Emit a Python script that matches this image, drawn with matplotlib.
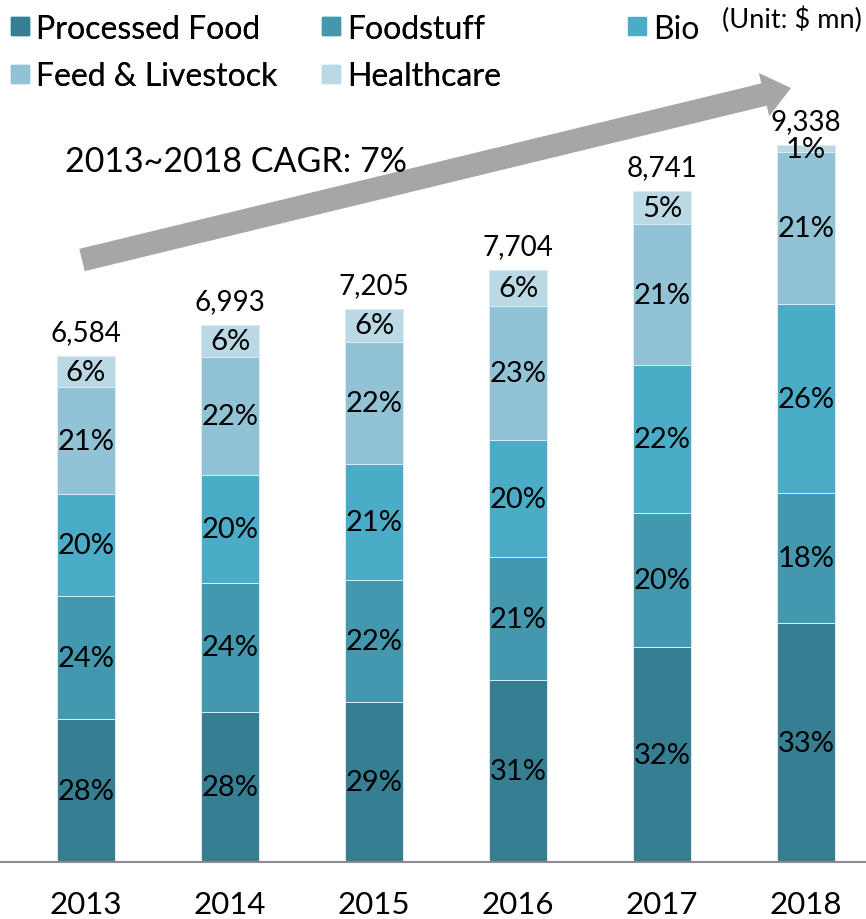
import matplotlib
matplotlib.use("Agg")
import matplotlib.pyplot as plt
from matplotlib.lines import Line2D
import numpy as np

plt.rcParams['font.family'] = ['Lato', 'DejaVu Sans']

years = ['2013', '2014', '2015', '2016', '2017', '2018']
totals = [6584, 6993, 7205, 7704, 8741, 9338]

segments = ['Processed Food', 'Foodstuff', 'Bio', 'Feed & Livestock', 'Healthcare']
processed_food = [28, 28, 29, 31, 32, 33]
foodstuff = [24, 24, 22, 21, 20, 18]
bio = [20, 20, 21, 20, 22, 26]
feed_livestock = [21, 22, 22, 23, 21, 21]
healthcare = [6, 6, 6, 6, 5, 1]
colors = ['#367f93', '#4397af', '#4aacc6', '#92c2d5', '#bad9e5']

shares = np.array([processed_food, foodstuff, bio, feed_livestock, healthcare], dtype=float)
tot = np.array(totals, dtype=float)
# split each year's total by its shares (shares don't always add to exactly 100)
values = shares / shares.sum(axis=0) * tot

fig = plt.figure(figsize=(8.66, 9.2), dpi=100)
ax = fig.add_axes([0, 57 / 920, 1, 863 / 920])

x = np.arange(len(years))
bottom = np.zeros(len(years))
for i, name in enumerate(segments):
    ax.bar(x, values[i], 0.396, bottom=bottom, color=colors[i],
           edgecolor='#d9edf3', linewidth=0.7, label=name)
    for j in range(len(years)):
        ax.text(x[j], bottom[j] + values[i][j] / 2, f"{int(shares[i][j])}%",
                ha='center', va='center', fontsize=21, color='black')
    bottom += values[i]

for j in range(len(years)):
    ax.annotate(f"{totals[j]:,}", (x[j], totals[j]), xytext=(0, 8),
                textcoords='offset points', ha='center', va='bottom',
                fontsize=20, color='black')

ax.set_xlim(-86 / 144, 780 / 144)
ax.set_ylim(0, 11240)
ax.set_xticks(x)
ax.set_xticklabels(years, fontsize=22.5)
ax.tick_params(axis='x', length=0, pad=20)
ax.set_yticks([])
for s in ['top', 'left', 'right']:
    ax.spines[s].set_visible(False)
ax.spines['bottom'].set_color('#8c8c8c')
ax.spines['bottom'].set_linewidth(1.5)
ax.patch.set_alpha(0)

# growth arrow
ax.annotate('', xy=(791 / 866, 1 - 89 / 920), xytext=(82 / 866, 1 - 261 / 920),
            xycoords='figure fraction', textcoords='figure fraction',
            arrowprops=dict(arrowstyle='simple,head_length=20,head_width=32,tail_width=16.5',
                            mutation_scale=1, color='#a6a6a6', shrinkA=0, shrinkB=0, lw=0))
fig.text(65 / 866, 1 - 162 / 920, '2013~2018 CAGR: 7%', fontsize=24.5,
         ha='left', va='center')
fig.text(862 / 866, 1 - 20 / 920, '(Unit: $ mn)', fontsize=19.5, ha='right', va='center')

# legend
def handle(c):
    return Line2D([], [], marker='s', linestyle='none', markersize=13,
                  markerfacecolor=c, markeredgecolor=c)

order = [0, 3, 1, 4]
leg1 = fig.legend([handle(colors[k]) for k in order], [segments[k] for k in order],
                  ncol=2, loc='upper left', bbox_to_anchor=(-2 / 866, 0.998), frameon=False,
                  fontsize=23, handlelength=0.6, handletextpad=0.2,
                  columnspacing=1.37, labelspacing=0.55, borderaxespad=0)
fig.add_artist(leg1)
fig.legend([handle(colors[2])], [segments[2]], loc='upper left',
           bbox_to_anchor=(615 / 866, 0.998), frameon=False, fontsize=23,
           handlelength=0.6, handletextpad=0.2, borderaxespad=0)

fig.savefig('out.png', dpi=100)
